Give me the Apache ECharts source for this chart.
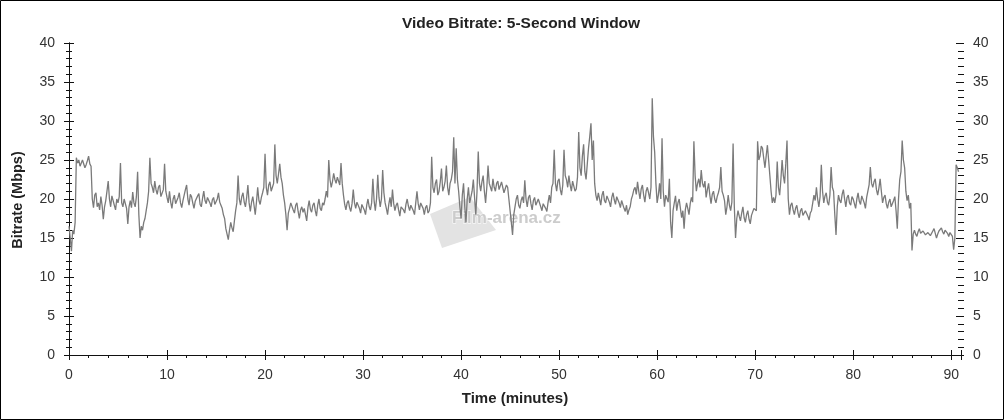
<!DOCTYPE html>
<html>
<head>
<meta charset="utf-8">
<script src="https://cdn.jsdelivr.net/npm/echarts@6/dist/echarts.min.js"></script>
<style>html,body{margin:0;padding:0;background:#fff}#c{width:1004px;height:420px}</style>
</head>
<body>
<div id="c"></div>
<script>
// Bitrate (Mbps) sampled every 0.125 minute (8 readings per minute), grouped per 10 minutes
const timeStep = 0.125;
const bitrate00_10 = [
  16.5,15.0,13.3,16.0,15.5,17.0,25.3,24.6, 25.0,24.2,24.3,25.0,25.2,24.0,24.4,24.9,
  25.5,24.5,24.2,20.0,18.9,20.5,20.8,19.0, 19.5,18.6,20.3,19.2,17.4,19.0,19.8,21.0,
  22.3,20.0,19.0,20.4,20.5,19.2,18.6,20.0, 19.5,20.3,24.6,19.5,19.0,20.0,20.2,18.8,
  16.8,19.0,19.8,18.9,20.9,19.5,19.0,20.3, 23.5,18.0,15.0,16.5,16.0,17.0,17.5,18.5,
  19.5,21.0,25.3,22.0,21.5,20.8,22.3,21.2, 20.6,21.5,21.8,20.3,20.5,21.2,24.5,21.0];
const bitrate10_20 = [
  20.2,19.5,21.0,19.6,18.8,20.0,20.5,19.4, 19.3,20.2,20.8,19.5,18.9,19.8,20.0,21.2,
  21.8,20.0,19.2,20.6,20.3,19.5,18.8,19.7, 19.6,20.4,20.7,19.3,19.0,20.1,21.0,19.8,
  19.4,20.2,20.4,19.5,19.0,19.9,20.2,19.3, 19.5,20.0,20.8,19.6,19.2,18.8,18.0,17.5,
  16.2,15.5,14.8,16.0,17.0,16.3,15.8,17.2, 18.5,19.5,23.0,20.0,19.2,20.3,20.8,19.6,
  19.0,20.2,21.8,19.5,18.4,19.6,20.3,19.2, 18.0,19.6,21.5,19.8,19.3,20.2,20.8,21.5];
const bitrate20_30 = [
  25.8,21.5,20.5,21.8,22.2,21.0,20.8,22.0, 27.0,23.0,22.0,23.2,24.5,22.8,22.0,20.5,
  19.5,18.0,16.0,18.2,18.8,19.5,19.6,18.6, 18.2,19.2,19.5,18.4,17.5,18.6,19.0,18.3,
  18.8,18.0,17.2,18.9,19.8,18.7,18.3,19.2, 19.5,18.5,17.8,19.2,20.0,18.8,18.5,19.5,
  19.2,20.0,21.0,20.2,25.0,22.5,21.5,22.2, 23.3,22.5,22.0,22.8,23.0,21.8,24.6,22.0,
  20.5,19.3,18.6,19.5,19.8,18.9,18.4,19.4, 21.2,19.5,18.8,19.6,19.8,18.8,18.2,19.3];
const bitrate30_40 = [
  19.5,18.6,18.0,19.2,20.0,19.0,18.6,19.5, 22.6,19.8,18.5,20.0,23.1,20.2,19.0,20.0,
  23.7,20.8,19.5,18.8,18.0,19.3,20.2,19.0, 21.2,19.4,18.5,19.2,19.5,18.6,17.8,19.0,
  19.0,18.6,18.2,19.3,20.0,19.1,18.5,19.2, 19.3,18.5,18.0,19.5,21.0,19.4,18.6,19.5,
  19.6,18.8,18.0,18.9,19.2,18.2,18.5,19.5, 25.4,21.5,20.8,22.0,22.5,20.5,21.0,22.2,
  23.9,21.0,21.5,22.3,24.3,21.5,20.5,22.0, 22.5,23.5,27.9,22.0,26.5,22.5,21.0,19.0];
const bitrate40_50 = [
  17.5,20.5,22.0,19.0,17.0,20.0,21.5,19.5, 19.5,21.0,22.5,20.2,18.0,21.0,26.1,22.0,
  21.0,22.2,23.0,21.0,19.5,21.5,24.3,22.0, 21.8,21.0,22.6,21.5,21.0,22.0,22.3,21.2,
  21.2,22.2,22.0,20.8,20.8,21.8,21.5,20.0, 18.5,17.0,15.4,18.0,19.0,20.0,20.5,19.2,
  18.8,19.8,20.3,19.5,22.4,20.0,19.0,20.2, 20.5,19.4,18.6,19.8,20.2,19.2,19.0,20.0,
  19.8,19.0,18.5,19.4,19.5,18.8,18.4,19.6, 20.5,19.5,21.5,22.0,26.3,22.0,21.0,22.3];
const bitrate50_60 = [
  22.6,21.2,20.5,21.8,26.3,23.0,22.5,21.5, 23.0,21.8,21.0,22.3,22.5,21.0,21.3,22.8,
  28.6,24.0,23.0,25.5,27.0,23.5,22.5,24.5, 26.5,28.0,29.7,25.0,27.5,22.0,20.5,19.8,
  20.8,20.0,19.2,20.5,21.0,19.8,19.5,20.4, 20.5,19.6,19.0,20.2,20.8,19.9,19.3,20.3,
  20.2,19.5,18.9,19.8,20.0,18.8,18.4,19.2, 18.0,18.6,19.0,20.0,20.5,21.2,21.5,20.6,
  22.2,21.0,20.0,21.3,21.8,20.5,19.6,21.0, 21.5,20.8,20.0,21.5,32.9,28.0,26.0,22.0];
const bitrate60_70 = [
  19.5,20.5,22.0,20.0,27.8,21.0,19.0,20.5, 20.3,19.6,22.6,17.0,15.0,18.5,19.5,20.4,
  18.5,19.5,20.0,18.8,17.6,18.5,16.2,18.6, 19.5,18.8,18.0,19.4,20.2,19.6,27.4,23.0,
  21.0,22.0,22.6,21.5,23.7,22.0,21.5,22.3, 20.2,21.2,22.0,20.5,19.4,20.6,21.0,20.0,
  19.5,20.3,20.8,21.5,24.1,21.0,20.5,19.8, 18.0,19.0,20.5,19.2,18.5,19.6,27.1,19.0,
  15.0,17.5,18.5,17.8,17.2,18.2,19.0,17.6, 17.0,18.0,18.5,17.4,16.8,17.9,18.0,18.8];
const bitrate70_80 = [
  19.0,18.5,27.4,25.0,25.5,26.8,26.5,25.2, 24.0,25.5,26.9,25.0,23.0,21.0,19.5,20.2,
  19.5,20.5,24.8,21.5,20.5,22.5,25.0,23.0, 22.0,24.5,27.5,20.0,18.0,19.2,19.5,18.6,
  18.0,18.8,19.2,18.2,17.6,18.5,18.8,17.9, 17.8,18.5,18.6,17.8,17.3,18.2,18.5,19.5,
  20.5,19.8,21.5,20.0,19.0,20.3,24.4,21.0, 19.5,20.4,20.8,19.6,19.2,20.5,24.1,21.5,
  21.0,18.0,15.4,19.0,20.5,19.8,19.5,20.6, 21.2,20.0,19.0,20.2,20.5,19.5,19.2,20.3];
const bitrate80_91 = [
  20.0,19.4,18.8,20.0,20.8,19.7,19.3,20.4, 20.2,19.5,18.8,20.2,21.0,21.8,24.1,22.0,
  21.5,22.2,22.6,21.2,20.5,21.4,22.6,21.0, 19.5,20.2,20.5,19.4,18.8,19.6,20.0,19.0,
  19.2,19.8,20.3,18.5,16.2,20.0,22.5,23.5, 27.5,25.0,24.0,21.0,19.8,20.5,18.8,19.5,
  13.4,15.5,16.0,15.5,15.2,15.8,16.2,15.6, 15.5,15.9,16.0,15.4,15.2,15.7,15.8,15.3,
  15.4,15.9,16.2,15.6,15.0,15.5,15.9,16.1, 16.3,15.8,15.5,16.0,16.0,15.6,15.2,15.7,
  15.6,15.2,13.5,15.0,24.4,24.0,23.5];
const xTicksMajor = 10, xTicksMinor = 2, yTicksMajor = 5, yTicksMinor = 1;
const xMax = 91, yMax = 40;

const all = [].concat(bitrate00_10, bitrate10_20, bitrate20_30, bitrate30_40, bitrate40_50,
  bitrate50_60, bitrate60_70, bitrate70_80, bitrate80_91);
const seriesData = all.map((v, i) => [i * timeStep, v]);

const font = 'Liberation Sans, Arial, sans-serif';
const axisCol = '#111';
function xAx(pos, interval, showLine, showLabel, inside, len) {
  return {
    type: 'value', position: pos, min: 0, max: xMax, interval: interval,
    axisLine: {show: showLine, lineStyle: {color: axisCol, width: 1}},
    axisTick: {show: true, inside: inside, length: len, lineStyle: {color: axisCol}},
    axisLabel: {show: showLabel, margin: 13, color: '#333', fontSize: 14, fontFamily: font,
      formatter: v => (v % 10 === 0 ? String(v) : '')},
    splitLine: {show: false}
  };
}
function yAx(pos, interval, showLine, showLabel, inside, len) {
  return {
    type: 'value', position: pos, min: 0, max: yMax, interval: interval,
    axisLine: {show: showLine, lineStyle: {color: axisCol, width: 1}},
    axisTick: {show: true, inside: inside, length: len, lineStyle: {color: axisCol}},
    axisLabel: {show: showLabel, margin: pos === 'left' ? 14 : 12, color: '#333', fontSize: 14, fontFamily: font},
    splitLine: {show: false}
  };
}

const chart = echarts.init(document.getElementById('c'), null, {renderer: 'canvas'});
chart.setOption({
  animation: false,
  backgroundColor: '#fff',
  title: {text: 'Video Bitrate: 5-Second Window', left: 397, top: 11,
    textStyle: {fontSize: 15.5, fontWeight: 'bold', color: '#222', fontFamily: font}},
  grid: {left: 69, right: 43, top: 43, bottom: 65, containLabel: false},
  xAxis: [
    xAx('bottom', xTicksMajor, true, true, false, 5),
    xAx('bottom', xTicksMajor, false, false, true, 5),
    xAx('bottom', xTicksMinor, false, false, false, 3),
    xAx('top', xTicksMajor, true, false, true, 5),
    xAx('top', xTicksMinor, false, false, true, 3)
  ],
  yAxis: [
    yAx('left', yTicksMajor, true, true, false, 5),
    yAx('left', yTicksMajor, false, false, true, 5),
    yAx('left', yTicksMinor, false, false, false, 3),
    yAx('left', yTicksMinor, false, false, true, 3),
    yAx('right', yTicksMajor, true, true, false, 5),
    yAx('right', yTicksMajor, false, false, true, 5),
    yAx('right', yTicksMinor, false, false, false, 3),
    yAx('right', yTicksMinor, false, false, true, 3)
  ],
  graphic: [
    {type: 'rect', z: 100, silent: true, shape: {x: 0.5, y: 0.5, width: 1003, height: 419},
      style: {fill: 'none', stroke: '#000', lineWidth: 1}},
    {type: 'polygon', z: -1, silent: true,
      shape: {points: [[430, 214], [470, 197], [496, 230], [442, 248]]},
      style: {fill: '#e3e3e3'}},
    {type: 'text', z: -1, silent: true, x: 452, y: 210,
      style: {text: 'Film-arena.cz', fill: '#cccccc', stroke: '#ffffff', lineWidth: 1,
        font: 'bold 17px ' + font}},
    {type: 'text', silent: true, x: 18, y: 200, rotation: Math.PI / 2,
      style: {text: 'Bitrate (Mbps)', fill: '#222', font: 'bold 14.5px ' + font, align: 'center', verticalAlign: 'middle'}},
    {type: 'text', silent: true, x: 515, y: 399,
      style: {text: 'Time (minutes)', fill: '#222', font: 'bold 15px ' + font, align: 'center', verticalAlign: 'middle'}}
  ],
  series: [{
    type: 'line', xAxisIndex: 0, yAxisIndex: 0, data: seriesData,
    showSymbol: false, symbol: 'none',
    lineStyle: {color: '#7a7a7a', width: 1.3}
  }]
});
</script>
</body>
</html>
